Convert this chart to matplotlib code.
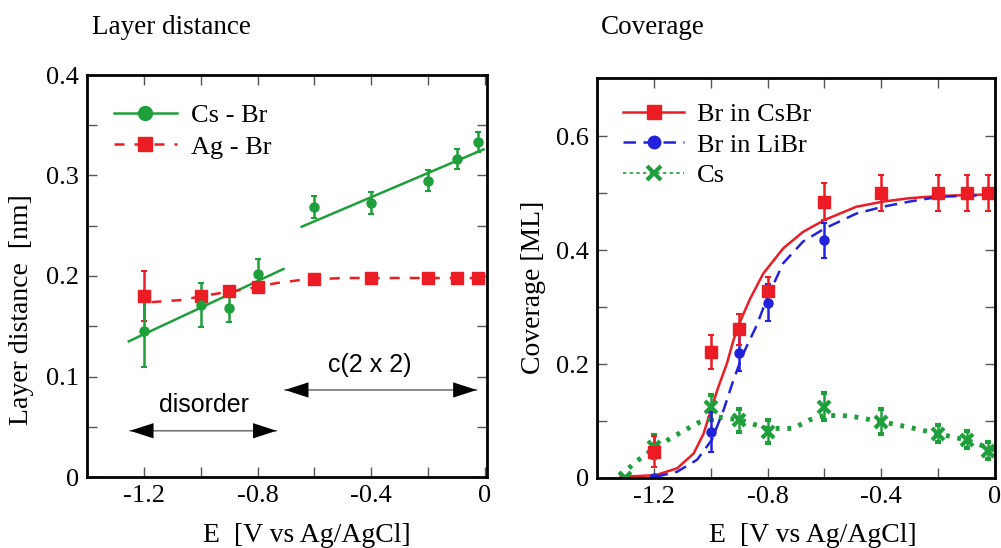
import numpy as np
import matplotlib.pyplot as plt
from matplotlib.lines import Line2D

plt.rcParams['font.family'] = ['Liberation Serif', 'DejaVu Serif']
plt.rcParams['axes.unicode_minus'] = False

# ---- layer distance panel ----
e_pts = [-1.2, -1.0, -0.9, -0.8, -0.6, -0.4, -0.2, -0.1, -0.025]
cs_br = [0.145, 0.171, 0.168, 0.202, 0.269, 0.273, 0.295, 0.316, 0.333]
cs_br_err = [0.036, 0.022, 0.014, 0.015, 0.011, 0.011, 0.010, 0.010, 0.010]
ag_br = [0.180, 0.180, 0.185, 0.189, 0.197, 0.198, 0.198, 0.198, 0.198]
ag_br_err = [0.025, 0.004, 0.003, 0.003, 0.002, 0.002, 0.002, 0.002, 0.002]

# linear fits for the two Cs-Br regimes (end points)
fit_lo_x = [-1.253, -0.709]
fit_lo_y = [0.135, 0.207]
fit_hi_x = [-0.645, -0.005]
fit_hi_y = [0.249, 0.326]
# Ag-Br fit curve
ag_fit_x = [-1.173, -1.073, -0.932, -0.839, -0.733, -0.65, -0.5, -0.3, 0.0]
ag_fit_y = [0.174, 0.176, 0.183, 0.187, 0.193, 0.196, 0.198, 0.198, 0.198]

# ---- coverage panel ----
br_cs_x = [-1.2, -1.0, -0.9, -0.8, -0.6, -0.4, -0.2, -0.1, -0.025]
br_cs = [0.046, 0.221, 0.261, 0.328, 0.485, 0.500, 0.500, 0.500, 0.500]
br_cs_err = [0.027, 0.030, 0.027, 0.024, 0.033, 0.032, 0.032, 0.032, 0.032]
br_li_x = [-1.2, -1.0, -0.9, -0.8, -0.6]
br_li = [0.0, 0.080, 0.220, 0.308, 0.417]
br_li_err = [0.0, 0.035, 0.033, 0.032, 0.031]
cs_x = [-1.3, -1.2, -1.0, -0.9, -0.8, -0.6, -0.4, -0.2, -0.1, -0.025]
cs = [0.0, 0.055, 0.124, 0.101, 0.081, 0.125, 0.099, 0.078, 0.067, 0.048]
cs_err = [0.0, 0.020, 0.022, 0.020, 0.020, 0.024, 0.022, 0.015, 0.015, 0.015]

red_fit_x = [-1.317, -1.194, -1.118, -1.060, -1.025, -0.996, -0.973, -0.943, -0.920,
             -0.897, -0.862, -0.815, -0.745, -0.675, -0.599, -0.488, -0.395, -0.302,
             -0.197, 0.0]
red_fit_y = [0.002, 0.005, 0.017, 0.043, 0.078, 0.125, 0.160, 0.201, 0.242,
             0.274, 0.314, 0.359, 0.403, 0.432, 0.453, 0.476, 0.485, 0.491,
             0.495, 0.498]
blue_fit_x = [-1.194, -1.118, -1.048, -0.996, -0.955, -0.920, -0.885, -0.838, -0.803,
              -0.745, -0.675, -0.599, -0.488, -0.395, -0.302, -0.197, 0.0]
blue_fit_y = [0.002, 0.011, 0.032, 0.067, 0.119, 0.172, 0.219, 0.268, 0.314,
              0.377, 0.415, 0.438, 0.464, 0.476, 0.485, 0.4935, 0.497]
cs_fit_x = [-1.317, -1.27, -1.2, -1.13, -1.048, -0.99, -0.897, -0.803, -0.71, -0.652,
            -0.6, -0.512, -0.4, -0.302, -0.203, -0.103, 0.0]
cs_fit_y = [0.003, 0.026, 0.052, 0.073, 0.096, 0.108, 0.102, 0.087, 0.087, 0.102,
            0.110, 0.109, 0.099, 0.089, 0.078, 0.067, 0.049]

x_ticks = [-1.2, -1.0, -0.8, -0.6, -0.4, -0.2, 0.0]
x_labels = ['-1.2', '', '-0.8', '', '-0.4', '', '0']
y1_labels = ['0', '', '0.1', '', '0.2', '', '0.3', '', '0.4']
y2_labels = ['0', '', '0.2', '', '0.4', '', '0.6']

red = '#ec1c24'
green = '#1f9e3c'
blue = '#2222dd'
serif = 'Liberation Serif'

fig = plt.figure(figsize=(10.01, 5.48), dpi=100)
ax1 = fig.add_axes([87 / 1001, 71 / 548, 400 / 1001, 402 / 548])
ax2 = fig.add_axes([597 / 1001, 70 / 548, 398 / 1001, 400 / 548])


def style_axes(ax):
    for s in ax.spines.values():
        s.set_linewidth(2.0)
    ax.tick_params(direction='in', length=7, width=1, color='#555555',
                   top=True, right=True, labelsize=19, labelfontfamily=serif)
    ax.tick_params(axis='x', pad=6)
    ax.tick_params(axis='y', pad=6)


# left panel
ax1.plot(fit_lo_x, fit_lo_y, color=green, lw=1.8)
ax1.plot(fit_hi_x, fit_hi_y, color=green, lw=1.8)
ax1.plot(ag_fit_x, ag_fit_y, color=red, lw=1.8, dashes=(4, 4))
ax1.errorbar(e_pts, ag_br, yerr=ag_br_err, fmt='s', color=red, ms=9,
             elinewidth=1.8, capsize=2.5, capthick=1.5)
ax1.errorbar(e_pts, cs_br, yerr=cs_br_err, fmt='o', color=green, ms=6.5,
             elinewidth=1.8, capsize=2.5, capthick=1.5)

ax1.set_xlim(-1.4, 0.007)
ax1.set_ylim(0, 0.4)
ax1.set_xticks(x_ticks)
ax1.set_xticklabels(x_labels, fontfamily=serif)
ax1.set_yticks(np.arange(0, 0.401, 0.05))
ax1.set_yticklabels(y1_labels, fontfamily=serif)
style_axes(ax1)

# phase region arrows
for x0, x1, y in [(-1.249, -0.733, 0.046), (-0.704, -0.029, 0.0866)]:
    ax1.annotate('', xy=(x1, y), xytext=(x0, y),
                 arrowprops=dict(arrowstyle='-', color='#777777', lw=1.2,
                                 shrinkA=0, shrinkB=0))
    xm = (x0 + x1) / 2
    for xe in (x0, x1):
        ax1.annotate('', xy=(xe, y), xytext=(xm, y),
                     arrowprops=dict(arrowstyle='-|>,head_length=1.7,head_width=0.55',
                                     color='black', lw=0, shrinkA=0, shrinkB=0))
ax1.text(-0.989, 0.072, 'disorder', family='Liberation Sans', fontsize=18,
         ha='center', va='center')
ax1.text(-0.404, 0.111, 'c(2 x 2)', family='Liberation Sans', fontsize=18,
         ha='center', va='center')

leg1 = [Line2D([], [], color=green, lw=1.8, marker='o', ms=10),
        Line2D([], [], color=red, lw=1.8, dashes=(4, 4), marker='s', ms=10)]
ax1.legend(leg1, ['Cs - Br', 'Ag - Br'], loc='upper left', frameon=False,
           fontsize=19, handlelength=2.4, handletextpad=0.55, labelspacing=0.3,
           bbox_to_anchor=(0.04, 0.955), borderaxespad=0)

# right panel
ax2.plot(cs_fit_x, cs_fit_y, color=green, lw=3.5, dashes=(0.8, 1.6))
ax2.plot(red_fit_x, red_fit_y, color=red, lw=1.8)
ax2.plot(blue_fit_x, blue_fit_y, color=blue, lw=1.8, dashes=(5, 3))
ax2.errorbar(cs_x, cs, yerr=cs_err, fmt='x', color=green, ms=9, mew=3,
             elinewidth=1.8, capsize=2.5, capthick=1.5)
ax2.errorbar(br_li_x, br_li, yerr=br_li_err, fmt='o', color=blue, ms=6.5,
             elinewidth=1.8, capsize=2.5, capthick=1.5)
ax2.errorbar(br_cs_x, br_cs, yerr=br_cs_err, fmt='s', color=red, ms=8,
             elinewidth=1.8, capsize=2.5, capthick=1.5)

ax2.set_xlim(-1.4, 0.0)
ax2.set_ylim(0, 0.702)
ax2.set_xticks(x_ticks)
ax2.set_xticklabels(x_labels, fontfamily=serif)
ax2.set_yticks(np.arange(0, 0.61, 0.1))
ax2.set_yticklabels(y2_labels, fontfamily=serif)
style_axes(ax2)

leg2 = [Line2D([], [], color=red, lw=1.8, marker='s', ms=10),
        Line2D([], [], color=blue, lw=1.8, dashes=(5, 3), marker='o', ms=9),
        Line2D([], [], color=green, lw=1.2, dashes=(2, 2), marker='x', ms=10, mew=3)]
ax2.legend(leg2, ['Br in CsBr', 'Br in LiBr', 'Cs'], loc='upper left', frameon=False,
           fontsize=19, handlelength=2.3, handletextpad=0.5, labelspacing=0.27,
           bbox_to_anchor=(0.04, 0.965), borderaxespad=0)

# titles and axis labels
fig.text(92 / 1001, 1 - 27 / 548, 'Layer distance', fontsize=19.5, va='center')
fig.text(601 / 1001, 1 - 27 / 548, 'Coverage', fontsize=19.5, va='center')
fig.text(307 / 1001, 1 - 536 / 548, 'E  [V vs Ag/AgCl]', fontsize=20,
         ha='center', va='center')
fig.text(813 / 1001, 1 - 536 / 548, 'E  [V vs Ag/AgCl]', fontsize=20,
         ha='center', va='center')
fig.text(22 / 1001, 1 - 310 / 548, 'Layer distance  [nm]', fontsize=20,
         rotation=90, ha='center', va='center')
fig.text(533 / 1001, 1 - 287 / 548, 'Coverage [ML]', fontsize=20,
         rotation=90, ha='center', va='center')

fig.savefig('out.png', dpi=100)
